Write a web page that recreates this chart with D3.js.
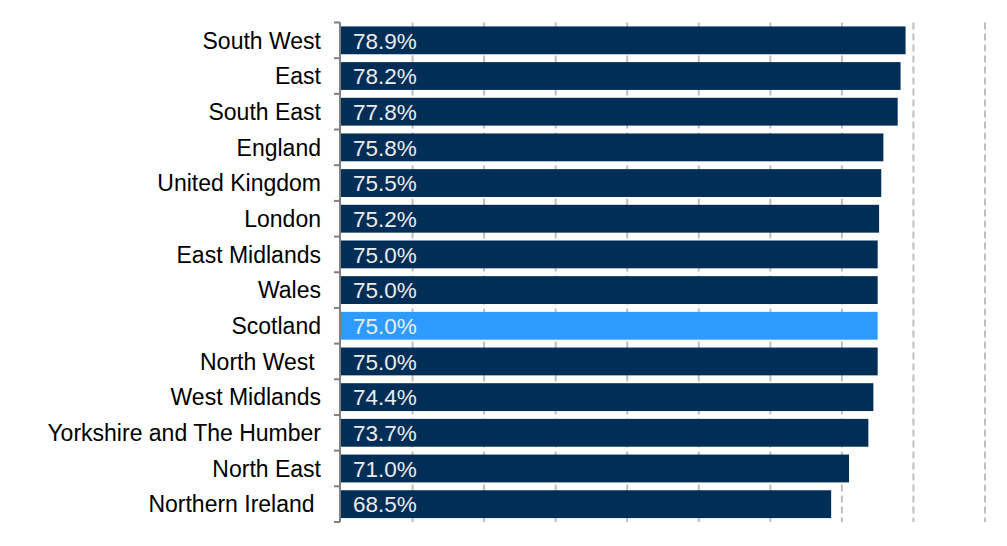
<!DOCTYPE html>
<html>
<head>
<meta charset="utf-8">
<script src="https://cdn.jsdelivr.net/npm/d3@7"></script>
<style>
body { margin: 0; background: #fff; }
text { font-family: "Liberation Sans", Arial, sans-serif; }
</style>
</head>
<body>
<div id="svgDiv"></div>
<script>
var w = 1007;
var h = 546;

var regions = ['South West', 'East', 'South East', 'England', 'United Kingdom', 'London',
	'East Midlands', 'Wales', 'Scotland', 'North West ', 'West Midlands',
	'Yorkshire and The Humber', 'North East', 'Northern Ireland ']
var rates = [78.9, 78.2, 77.8, 75.8, 75.5, 75.2, 75.0, 75.0, 75.0, 75.0, 74.4, 73.7, 71.0, 68.5]
var ticks = [0, 10, 20, 30, 40, 50, 60, 70, 80, 90]
var highlight = 'Scotland'

var yTop = 22.5, yBottom = 522

var svg = d3.select("#svgDiv")
	.append("svg")
	.attr("width", w)
	.attr("height", h);

var x = d3.scaleLinear()
	.domain([0, 90])
	.range([341, 985])

var y = d3.scaleBand()
	.domain(regions)
	.range([yTop, yBottom])
	.paddingInner(0.22)
	.paddingOuter(0.11)

// dashed gridlines
svg.selectAll(".grid")
	.data(ticks.slice(1))
	.enter()
	.append("line")
	.attr("x1", d => x(d))
	.attr("x2", d => x(d))
	.attr("y1", yTop)
	.attr("y2", yBottom)
	.style("stroke", "#bfbfbf")
	.style("stroke-width", "2px")
	.style("stroke-dasharray", "7,4")

svg.selectAll(".bar")
	.data(regions)
	.enter()
	.append("rect")
	.attr("x", x(0))
	.attr("y", d => y(d))
	.attr("width", (d, i) => x(rates[i]) - x(0))
	.attr("height", y.bandwidth())
	.style("fill", d => d == highlight ? '#2e9cff' : '#002e56')

svg.selectAll(".val")
	.data(regions)
	.enter()
	.append("text")
	.attr("x", x(0) + 12)
	.attr("y", d => y(d) + y.bandwidth() / 2)
	.attr("dy", "0.37em")
	.style("font-size", "22.5px")
	.style("fill", "#ececec")
	.text((d, i) => rates[i].toFixed(1) + '%')

// category axis
var yAxis = d3.axisLeft(y).tickSize(0).tickPadding(20)
var ax = svg.append("g").attr("transform", "translate(" + x(0) + ",0)").call(yAxis)
ax.select(".domain").remove()
ax.selectAll("text")
	.style("font-size", "23px")
	.style("fill", "#000")
	.style("white-space", "pre")
	.attr("dy", "0.36em")

var bounds = d3.range(regions.length + 1).map(i => yTop + i * (yBottom - yTop) / regions.length)
svg.append("line")
	.attr("x1", x(0) - 1).attr("x2", x(0) - 1)
	.attr("y1", yTop).attr("y2", yBottom)
	.style("stroke", "#808080")
	.style("stroke-width", "2px")
svg.selectAll(".ytick")
	.data(bounds)
	.enter()
	.append("line")
	.attr("x1", x(0) - 7).attr("x2", x(0) - 1)
	.attr("y1", d => d).attr("y2", d => d)
	.style("stroke", "#808080")
	.style("stroke-width", "2px")
</script>
</body>
</html>
